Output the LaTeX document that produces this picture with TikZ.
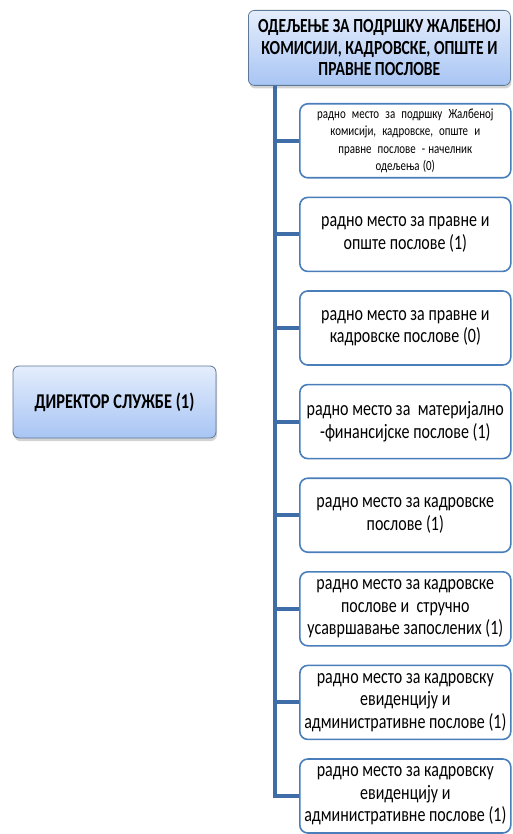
\documentclass[tikz,border=0pt]{standalone}
\usepackage{fontspec}
\setmainfont{Carlito}
\newfontfamily\cond[FakeStretch=0.78]{Carlito}
\usetikzlibrary{shadows}

\definecolor{headtop}{HTML}{E4EDFC}
\definecolor{headbot}{HTML}{A8C5F4}
\definecolor{headline}{HTML}{5E7898}
\definecolor{postline}{HTML}{4A7EBB}
\definecolor{trunkblue}{HTML}{3F6DA8}
\newcommand{\tightsp}[1]{\spaceskip=#1em\relax}

\begin{document}
\begin{tikzpicture}[x=1pt,y=-1pt]
    \tikzset{
        head/.style={draw=headline, line width=0.8pt, rounded corners=6pt,
            top color=headtop, bottom color=headbot,
            drop shadow={shadow xshift=1pt, shadow yshift=-3pt, opacity=0.35},
            align=center, font=\cond\bfseries\fontsize{20}{21.5}\selectfont\tightsp{0.18}, inner sep=0pt},
        post/.style={draw=postline, line width=1.6pt, rounded corners=8pt, fill=white,
            minimum width=211pt, minimum height=74pt,
            align=center, anchor=north west, inner sep=0pt,
            font=\cond\fontsize{20.5}{22.5}\selectfont\tightsp{0.18}},
        branch/.style={draw=trunkblue, line width=4pt}
    }
    \useasboundingbox (0,0) rectangle (512,834);

    % director
    \node[head, minimum width=203pt, minimum height=72pt, font=\cond\bfseries\fontsize{21}{22}\selectfont\tightsp{0.18}]
        (dir) at (114.5,402) {ДИРЕКТОР СЛУЖБЕ (1)};

    % department
    \node[head, anchor=north west, minimum width=262pt, minimum height=75pt] (dept) at (248,10)
        {ОДЕЉЕЊЕ ЗА ПОДРШКУ ЖАЛБЕНОЈ\\КОМИСИЈИ, КАДРОВСКЕ, ОПШТЕ И\\ПРАВНЕ ПОСЛОВЕ};
    \coordinate (trunk) at ([xshift=27pt]dept.south west);

    % posts
    \node[post, font=\cond\fontsize{14}{17.5}\selectfont\tightsp{0.22}] (p1) at (299,103)
        {радно \ место \ за \ подршку \ Жалбеној\\комисији, \ кадровске, \ опште \ и\\правне \ послове \ - начелник\\одељења (0)};
    \foreach \i/\t in {2/{радно место за правне и\\опште послове (1)},
                       3/{радно место за правне и\\кадровске послове (0)},
                       4/{радно место за \ материјално\\-финансијске послове (1)},
                       5/{радно место за кадровске\\послове (1)},
                       6/{радно место за кадровске\\послове и \ стручно\\усавршавање запослених (1)},
                       7/{радно место за кадровску\\евиденцију и\\административне послове (1)},
                       8/{радно место за кадровску\\евиденцију и\\административне послове (1)}}{
        \node[post] (p\i) at (299,{103+(\i-1)*93.6}) {\t};
    }
    \foreach \i in {1,...,8}{
        \draw[branch] (trunk) |- (p\i.west);
    }
\end{tikzpicture}
\end{document}
